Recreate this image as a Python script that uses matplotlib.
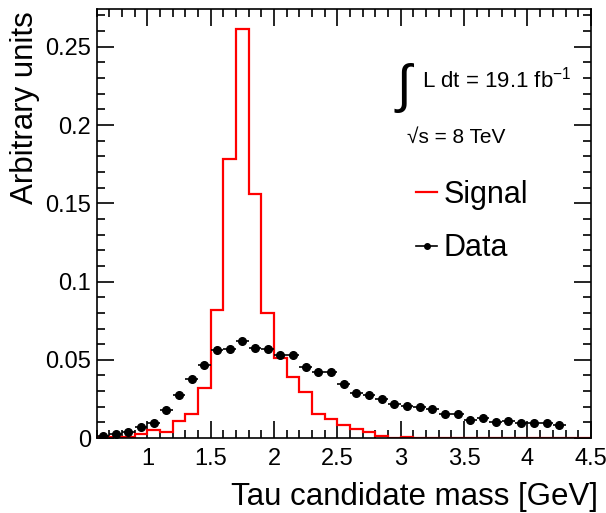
import numpy as np
import matplotlib.pyplot as plt
from matplotlib.lines import Line2D
from matplotlib.ticker import MultipleLocator

plt.rcParams['font.family'] = ['Liberation Sans', 'DejaVu Sans']
plt.rcParams['mathtext.fontset'] = 'custom'
plt.rcParams['mathtext.rm'] = 'Liberation Sans'

# histogram binning (GeV), 0.1 wide bins
edges = np.round(np.arange(0.6, 4.5001, 0.1), 2)

signal = [0.0004, 0.0009, 0.0010, 0.0028, 0.0049, 0.0036, 0.0109, 0.0151, 0.0322, 0.0818,
          0.1780, 0.2613, 0.1558, 0.0797, 0.0510, 0.0392, 0.0292, 0.0151, 0.0124, 0.0085,
          0.0060, 0.0038, 0.0015, 0.0000, 0.0006, 0.0, 0.0, 0.0, 0.0, 0.0,
          0.0, 0.0, 0.0, 0.0, 0.0, 0.0, 0.0, 0.0, 0.0]

data_y = [0.0015, 0.0026, 0.0036, 0.0072, 0.0096, 0.0179, 0.0275, 0.0375, 0.0467, 0.0563,
          0.0567, 0.0622, 0.0577, 0.0567, 0.0533, 0.0533, 0.0454, 0.0422, 0.0422, 0.0345,
          0.0290, 0.0273, 0.0249, 0.0219, 0.0205, 0.0200, 0.0183, 0.0151, 0.0151, 0.0117,
          0.0126, 0.0100, 0.0109, 0.0094, 0.0096, 0.0098, 0.0081]
data_x = edges[:len(data_y)] + 0.05

fig = plt.figure(figsize=(6.06, 5.13), dpi=100)
ax = fig.add_axes([0.1596, 0.146, 0.8154, 0.836])

ax.stairs(signal, edges, color='red', lw=1.6, zorder=2)
ax.errorbar(data_x, data_y, xerr=0.05, fmt='o', color='black', ms=5.5,
            elinewidth=1.2, capsize=0, zorder=3)

ax.set_xlim(0.6, 4.5)
ax.set_ylim(0, 0.274)
ax.xaxis.set_minor_locator(MultipleLocator(0.1))
ax.yaxis.set_minor_locator(MultipleLocator(0.01))
ax.tick_params(which='both', direction='in', top=True, right=True, width=1.2, labelsize=17)
ax.tick_params(which='major', length=12)
ax.tick_params(which='minor', length=6)
ax.tick_params(axis='x', pad=7)
ax.tick_params(axis='y', pad=4)
ax.set_xticks([1, 1.5, 2, 2.5, 3, 3.5, 4, 4.5])
ax.set_xticklabels(['1', '1.5', '2', '2.5', '3', '3.5', '4', '4.5'])
ax.set_yticks([0, 0.05, 0.1, 0.15, 0.2, 0.25])
ax.set_yticklabels(['0', '0.05', '0.1', '0.15', '0.2', '0.25'])
for s in ax.spines.values():
    s.set_linewidth(1.2)

fig.text(0.987, 0.016, 'Tau candidate mass [GeV]', fontsize=22.5, ha='right', va='baseline')
fig.text(0.041, 0.979, 'Arbitrary units', fontsize=22.5, rotation=90, ha='center', va='top')

fig.text(0.650, 0.828, r'$\int$', fontsize=38, va='center', ha='left')
fig.text(0.697, 0.845, r'L dt = 19.1 fb$^{-1}$', fontsize=16, va='center', ha='left')
fig.text(0.671, 0.732, '√s = 8 TeV', fontsize=15, va='center', ha='left')

handles = [Line2D([], [], color='red', lw=1.6),
           Line2D([], [], color='black', lw=1.2, marker='o', ms=4)]
ax.legend(handles, ['Signal', 'Data'], loc='upper left', bbox_to_anchor=(0.646, 0.602),
          frameon=False, fontsize=22, handlelength=0.7, handletextpad=0.2,
          labelspacing=0.77, borderpad=0, borderaxespad=0)

fig.savefig('out.png', dpi=100)
